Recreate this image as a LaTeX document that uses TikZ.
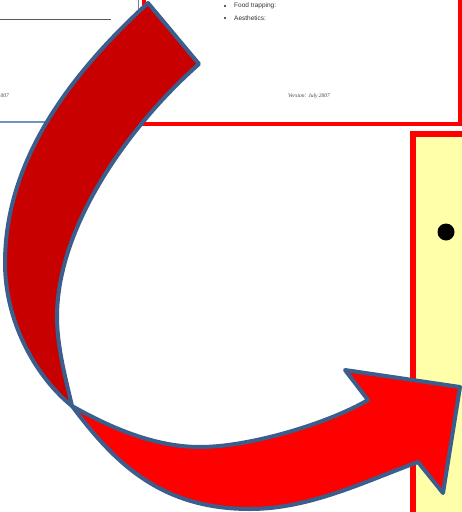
\documentclass[tikz,border=0pt]{standalone}
\usepackage{fontspec}
\setmainfont{Liberation Sans}
\newfontfamily\timesfont{Liberation Serif}
\definecolor{arrowline}{RGB}{59,94,140}
\definecolor{darkred}{RGB}{200,0,0}
\definecolor{brightred}{RGB}{255,0,0}
\definecolor{paleyellow}{RGB}{255,255,170}
\definecolor{lineblue}{RGB}{110,145,200}
\tikzset{
  pageframe/.style={draw=brightred, line width=4.5pt, fill=white},
  yellowframe/.style={draw=brightred, line width=6pt, fill=paleyellow},
  arrowpart/.style={draw=arrowline, line width=4pt, line join=round},
  smalltext/.style={font=\fontsize{6.5}{8}\selectfont, text=black!80, inner sep=0pt},
  vertext/.style={font=\timesfont\itshape\fontsize{5.5}{7}\selectfont, text=black!75, inner sep=0pt},
}
\begin{document}
\begin{tikzpicture}[x=1pt,y=-1pt]
\useasboundingbox (0,0) rectangle (462,512);
\clip (0,0) rectangle (462,512);
% left page fragment
\draw[black!65, line width=1.5pt] (0,19.5) -- (111,19.5);
\draw[lineblue, line width=1.2pt] (0,122) -- (140,122);
\draw[black!50, line width=0.8pt] (138.5,-2) -- (138.5,12);
\node[vertext, anchor=west] (leftver) at (0.5,96) {007};
% top page
\draw[pageframe] (144,-10) rectangle (460.5,124);
\fill[black!85] (225,6) circle (1.2pt);
\fill[black!85] (225,18) circle (1.2pt);
\node[smalltext, anchor=west] (food) at (234,6) {Food trapping:};
\node[smalltext, anchor=west] (aest) at (234,18) {Aesthetics:};
\node[vertext, anchor=center] (ver) at (309,96) {Version: July 2007};
% yellow page
\draw[yellowframe] (413,133.5) rectangle (480,530);
\fill[black] (446,232) circle (8.5pt);
% curved arrow: back part
\path[arrowpart, fill=darkred]
  (148,3) -- (199,64)
  .. controls (135,120) and (57,222) .. (57,317)
  .. controls (57,347) and (66,380) .. (72,406)
  .. controls (37,378) and (5,323) .. (5,263)
  .. controls (5,163) and (67,77) .. (148,3)
  -- cycle;
% curved arrow: front part
\path[arrowpart, fill=brightred]
  (72,406)
  .. controls (114,462) and (160,509) .. (250,509)
  .. controls (310,509) and (366,481) .. (418,462)
  -- (443,493) -- (460,387) -- (345,370) -- (368,400)
  .. controls (329,423) and (250,447) .. (200,447)
  .. controls (155,447) and (111,428) .. (72,406)
  -- cycle;
\end{tikzpicture}
\end{document}
